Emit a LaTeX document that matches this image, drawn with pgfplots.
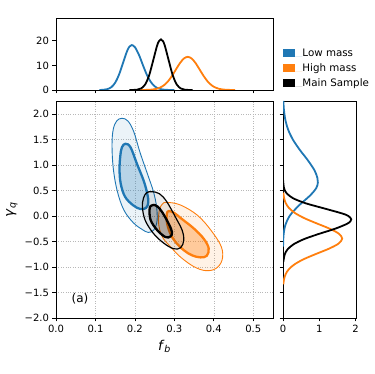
\documentclass[border=0pt]{standalone}
\usepackage{fontspec}
\setmainfont{DejaVu Sans}
\usepackage{pgfplots}
\pgfplotsset{compat=1.18}
\definecolor{tblue}{HTML}{1F77B4}
\definecolor{torange}{HTML}{FF7F0E}

\pgfplotsset{
  panel/.style={
    scale only axis,
    axis line style={line width=0.8pt},
    tick align=outside,
    major tick length=3.5pt,
    tick style={line width=0.7pt, black},
    tick label style={font=\fontsize{10}{12}\selectfont},
    label style={font=\fontsize{13.5}{15}\selectfont},
    xtick pos=bottom, ytick pos=left,
  },
  kde/.style={line width=1.8pt, smooth, tension=0.5},
}

\begin{document}
\begin{tikzpicture}
\useasboundingbox (-56pt,-56pt) rectangle (318pt,318pt);

% main panel: contours
\begin{axis}[panel, at={(0pt,0pt)}, anchor=south west,
    width=217pt, height=217pt,
    xmin=0, xmax=0.55, ymin=-2, ymax=2.26,
    xtick={0,0.1,0.2,0.3,0.4,0.5},
    xticklabels={0.0,0.1,0.2,0.3,0.4,0.5},
    ytick={-2,-1.5,-1,-0.5,0,0.5,1,1.5,2},
    yticklabels={−2.0,−1.5,−1.0,−0.5,0.0,0.5,1.0,1.5,2.0},
    grid=major,
    major grid style={dotted, black!28, line width=0.6pt},
    xlabel={\textit{f}\textsubscript{\textit{b}}},
    ylabel={\textit{γ}\textsubscript{\textit{q}}},
    xlabel style={at={(axis description cs:0.5,-0.132)}, anchor=center},
    ylabel style={at={(axis description cs:-0.203,0.5)}, anchor=center},
]
% low mass
\addplot[draw=tblue, line width=0.9pt, fill=tblue, fill opacity=0.09, smooth cycle, tension=0.6] coordinates {
  (0.167,1.92) (0.182,1.87) (0.197,1.66) (0.213,1.25) (0.234,0.78) (0.247,0.48)
  (0.255,0.18) (0.256,-0.10) (0.248,-0.27) (0.234,-0.32) (0.218,-0.26) (0.196,-0.13)
  (0.172,0.12) (0.155,0.50) (0.145,0.95) (0.142,1.40) (0.145,1.70) (0.154,1.87)
};
\addplot[draw=tblue, line width=2.3pt, fill=tblue, fill opacity=0.25, smooth cycle, tension=0.6] coordinates {
  (0.176,1.42) (0.189,1.35) (0.205,1.03) (0.222,0.70) (0.231,0.45) (0.234,0.27)
  (0.228,0.16) (0.214,0.14) (0.196,0.21) (0.175,0.38) (0.164,0.64) (0.161,0.92)
  (0.163,1.18) (0.167,1.35)
};
% high mass
\addplot[draw=torange, line width=0.9pt, fill=torange, fill opacity=0.1, smooth cycle, tension=0.6] coordinates {
  (0.281,0.27) (0.315,0.22) (0.358,0.02) (0.392,-0.27) (0.419,-0.60) (0.421,-0.86)
  (0.405,-1.03) (0.379,-1.07) (0.349,-0.99) (0.315,-0.80) (0.290,-0.60) (0.269,-0.40)
  (0.260,-0.14) (0.262,0.12) (0.270,0.24)
};
\addplot[draw=torange, line width=2.3pt, fill=torange, fill opacity=0.35, smooth cycle, tension=0.6] coordinates {
  (0.286,0.10) (0.300,0.06) (0.318,-0.05) (0.349,-0.24) (0.374,-0.44) (0.387,-0.63)
  (0.382,-0.78) (0.366,-0.81) (0.345,-0.77) (0.324,-0.67) (0.302,-0.50) (0.289,-0.33)
  (0.281,-0.11) (0.281,0.05)
};
% main sample
\addplot[draw=black, line width=1.2pt, fill=black, fill opacity=0.07, smooth cycle, tension=0.6] coordinates {
  (0.243,0.48) (0.262,0.44) (0.281,0.28) (0.307,-0.08) (0.320,-0.28) (0.324,-0.47)
  (0.316,-0.62) (0.298,-0.64) (0.273,-0.53) (0.247,-0.34) (0.226,-0.08) (0.219,0.18)
  (0.222,0.36) (0.230,0.46)
};
\addplot[draw=black, line width=2.3pt, fill=black, fill opacity=0.25, smooth cycle, tension=0.6] coordinates {
  (0.247,0.22) (0.257,0.19) (0.269,0.08) (0.285,-0.14) (0.294,-0.31) (0.290,-0.40)
  (0.277,-0.41) (0.256,-0.27) (0.240,-0.08) (0.237,0.12) (0.240,0.20)
};
\node[font=\fontsize{12}{14}\selectfont] at (axis cs:0.061,-1.63) {(a)};
\end{axis}

% top panel: f_b marginals
\begin{axis}[panel, at={(0pt,228pt)}, anchor=south west,
    width=217pt, height=72pt,
    xmin=0, xmax=0.55, ymin=0, ymax=29.3,
    xtick={0,0.1,0.2,0.3,0.4,0.5}, xticklabels={},
    ytick={0,10,20}, yticklabels={0,10,20},
    legend style={at={(axis description cs:1.046,0.29)}, anchor=west,
      draw=none, fill=none, inner sep=0pt, outer sep=0pt, row sep=4.6pt,
      font=\fontsize{10.3}{12}\selectfont,
      cells={anchor=base west},
      nodes={inner sep=0pt, text height=7.8pt, text depth=2.5pt}},
    legend image code/.code={\path (0pt,0pt) -- (19.5pt,0pt);
      \fill[#1] (0pt,-0.3pt) rectangle (11.7pt,7.6pt);},
]
\addlegendimage{fill=tblue, draw=none}
\addlegendentry{Low mass}
\addlegendimage{fill=torange, draw=none}
\addlegendentry{High mass}
\addlegendimage{fill=black, draw=none}
\addlegendentry{Main Sample}
\addplot[kde, tblue] coordinates {
  (0.11,0) (0.12,0.09) (0.13,0.35) (0.14,1.12) (0.15,2.96) (0.16,6.35) (0.17,11.10)
  (0.18,15.77) (0.186,17.63) (0.192,18.3) (0.20,17.45) (0.21,14.40) (0.22,10.25)
  (0.23,6.29) (0.24,3.33) (0.25,1.52) (0.26,0.60) (0.27,0.20) (0.28,0.06) (0.29,0.01) (0.30,0)
};
\addplot[kde, torange] coordinates {
  (0.214,0) (0.224,0.02) (0.234,0.065) (0.244,0.18) (0.254,0.44) (0.264,0.99) (0.274,1.98)
  (0.284,3.55) (0.294,5.75) (0.304,8.35) (0.314,10.90) (0.324,12.80) (0.334,13.5)
  (0.344,12.80) (0.354,10.90) (0.364,8.35) (0.374,5.75) (0.384,3.55) (0.394,1.98)
  (0.404,0.99) (0.414,0.44) (0.424,0.18) (0.434,0.065) (0.444,0.02) (0.454,0)
};
\addplot[kde, black] coordinates {
  (0.186,0) (0.196,0.02) (0.206,0.14) (0.216,0.65) (0.226,2.25) (0.236,5.92) (0.246,11.84)
  (0.256,17.94) (0.261,19.90) (0.266,20.6) (0.271,19.90) (0.276,17.94) (0.286,11.84)
  (0.296,5.92) (0.306,2.25) (0.316,0.65) (0.326,0.14) (0.336,0.02) (0.346,0)
};
\end{axis}

% right panel: gamma_q marginals
\begin{axis}[panel, at={(227pt,0pt)}, anchor=south west,
    width=73pt, height=217pt,
    xmin=0, xmax=2.01, ymin=-2, ymax=2.26,
    xtick={0,1,2}, xticklabels={0,1,2},
    ytick={-2,-1.5,-1,-0.5,0,0.5,1,1.5,2}, yticklabels={},
]
\addplot[kde, tblue] coordinates {
  (0.002,-0.6) (0.012,-0.4) (0.055,-0.2) (0.179,0.0) (0.425,0.2) (0.739,0.4) (0.916,0.55)
  (0.96,0.66) (0.947,0.75) (0.867,0.9) (0.680,1.1) (0.463,1.3) (0.274,1.5) (0.140,1.7)
  (0.062,1.9) (0.024,2.1) (0.010,2.26)
};
\addplot[kde, torange] coordinates {
  (0.009,-1.34) (0.028,-1.24) (0.072,-1.14) (0.164,-1.04) (0.331,-0.94) (0.587,-0.84)
  (0.918,-0.74) (1.263,-0.64) (1.529,-0.54) (1.63,-0.44) (1.529,-0.34) (1.263,-0.24)
  (0.918,-0.14) (0.587,-0.04) (0.331,0.06) (0.164,0.16) (0.072,0.26) (0.028,0.36) (0.009,0.46)
};
\addplot[kde, black] coordinates {
  (0.008,-0.9) (0.048,-0.75) (0.129,-0.65) (0.297,-0.55) (0.584,-0.45) (0.984,-0.35)
  (1.425,-0.25) (1.767,-0.15) (1.857,-0.10) (1.88,-0.06) (1.805,0.0) (1.639,0.05)
  (1.140,0.15) (0.633,0.25) (0.280,0.35) (0.098,0.45) (0.028,0.55) (0.003,0.70)
};
\end{axis}
\end{tikzpicture}
\end{document}
